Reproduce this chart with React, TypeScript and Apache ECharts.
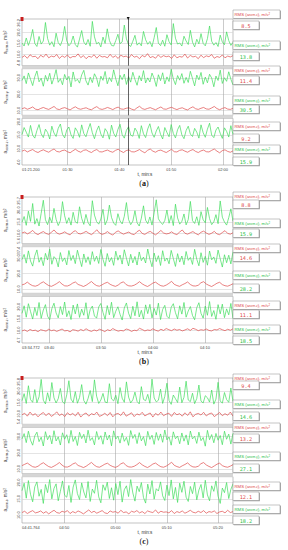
import { useEffect, useRef } from "react";
import * as echarts from "echarts";

// ---------- data ----------
const A_GX = [15.2,13.8,17.5,14.1,16.9,21.4,15.0,13.6,18.2,14.7,16.1,24.6,17.3,14.2,15.8,13.5,19.7,15.4,14.0,16.6,22.8,16.2,13.9,15.1,18.4,14.5,13.3,17.0,20.9,15.6,14.3,16.8,13.7,25.1,18.0,14.8,15.5,13.4,17.9,15.0,21.7,16.4,14.1,13.8,16.3,19.2,14.9,15.7,23.4,17.1,14.4,13.6,16.0,18.7,14.2,15.3,13.9,20.5,16.7,14.6,15.9,13.5,17.6,22.3,15.1,14.0,16.5,13.7,19.0,15.8,14.3,24.1,17.4,14.7,15.2,13.8,18.3,16.1,14.5,21.0,15.6,13.4,16.9,14.8,19.5,15.0,13.9,17.2,23.0,16.0,14.2,15.4,13.6,18.8,15.7,14.4,20.3,16.3,14.1,15.5];
const A_RX = [8.6,9.4,8.2,9.8,8.9,9.1,8.0,9.6,8.7,10.1,8.4,9.2,8.8,9.9,8.1,9.3,8.6,9.7,8.3,9.0,8.9,10.2,8.5,9.4,8.0,9.1,8.7,9.8,8.2,9.5,8.8,9.0,8.4,10.0,8.6,9.3,8.1,9.6,8.9,9.2,8.3,9.9,8.7,9.1,8.0,9.5,8.8,10.3,8.5,9.0,8.2,9.7,8.6,9.4,8.9,9.2,8.1,9.8,8.4,9.0,8.7,10.1,8.3,9.5,8.8,9.1,8.0,9.6,8.5,9.3,8.9,9.9,8.2,9.0,8.6,9.7,8.4,9.2,8.8,9.4];
const A_GY = [28.4,31.2,26.5,33.0,29.1,25.3,30.7,34.2,27.6,29.8,24.9,31.5,28.0,32.8,26.2,30.1,35.0,27.3,29.5,25.8,32.1,28.7,30.9,24.5,33.6,27.9,29.2,26.8,31.8,34.6,28.2,25.6,30.4,27.1,32.5,29.9,24.7,31.0,28.5,33.9,26.4,30.2,27.7,34.9,29.4,25.2,31.6,28.9,32.3,26.0,30.8,27.4,33.4,29.0,25.5,31.3,28.1,34.4,26.9,30.0,27.5,32.9,29.7,24.8,31.9,28.3,33.1,26.3,30.6,27.8,35.2,29.3,25.9,31.4,28.6,32.6,26.7,30.3,27.2,34.0,29.6,25.1,31.7,28.8,33.3,26.1,30.5,27.0,32.2,29.9,24.6,31.1,28.4,34.7,26.6,30.1,27.9,33.7,29.2,25.7];
const A_RY = [11.2,11.8,10.9,11.5,12.3,11.0,10.6,11.4,12.0,11.3,10.8,11.7,12.6,11.1,10.7,11.5,11.9,11.2,10.5,11.6,12.4,11.3,10.9,11.4,11.8,11.0,10.6,11.7,12.5,11.2,10.8,11.3,12.0,11.4,10.7,11.6,12.2,11.1,10.9,11.5,11.8,11.0,10.4,11.7,12.7,11.3,10.8,11.4,11.9,11.2,10.6,11.5,12.3,11.1,10.9,11.6,12.1,11.3,10.7,11.4,11.8,11.0,10.5,11.6,12.4,11.2,10.8,11.5,12.0,11.1,10.9,11.7,12.6,11.3,10.6,11.4,11.9,11.0,10.8,11.5];
const A_GZ = [15.2,17.8,16.1,14.3,18.6,15.0,13.9,16.7,18.9,15.5,14.1,17.2,16.0,13.6,18.3,15.8,14.5,17.5,19.1,15.3,14.0,16.9,18.0,15.1,13.8,17.7,16.4,14.2,18.8,15.6,14.4,17.0,19.3,15.9,13.7,16.6,18.4,15.4,14.0,17.4,16.2,13.5,18.7,15.7,14.3,17.1,19.0,15.2,13.9,16.8,18.1,15.0,14.6,17.6,16.3,13.8,18.5,15.5,14.1,17.3,19.2,15.8,14.2,16.5,18.2,15.3,13.6,17.8,16.0,14.4,18.9,15.6,14.0,17.0,18.6,15.1,13.7,16.7,18.3,15.4,14.5,17.5,16.1,13.9,18.8,15.9,14.2,17.2,19.4,15.0,14.1,16.9,18.0,15.7,13.8,17.7,16.4,14.3,18.5,15.2];
const A_RZ = [9.1,9.5,8.8,9.3,9.7,9.0,8.6,9.2,9.6,9.1,8.7,9.4,9.9,9.0,8.8,9.3,9.5,8.9,8.5,9.2,9.8,9.1,8.7,9.4,9.6,9.0,8.6,9.3,9.7,8.9,8.8,9.2,9.5,9.0,8.7,9.4,9.8,9.1,8.6,9.3,9.6,8.9,8.8,9.2,9.7,9.0,8.5,9.4,9.9,9.1,8.7,9.3,9.5,9.0,8.6,9.2,9.8,8.9,8.8,9.4,9.6,9.1,8.7,9.3,9.7,9.0,8.6,9.2,9.5,8.9,8.8,9.4,9.9,9.1,8.5,9.3,9.6,9.0,8.7,9.2];

const B_GX = [14.8,17.3,13.5,19.6,15.2,22.9,14.0,16.4,13.2,18.7,24.3,15.9,13.8,17.0,14.6,20.8,16.1,13.4,15.5,23.7,17.6,14.3,16.8,13.6,19.1,15.0,14.4,21.5,16.5,13.9,18.2,14.7,13.3,24.1,17.9,15.1,14.0,16.2,20.4,13.7,15.8,22.2,16.9,14.5,13.5,18.5,15.4,14.1,17.4,23.3,16.0,13.8,15.3,19.8,14.6,13.2,16.6,21.9,15.7,14.2,17.1,13.6,18.9,24.5,16.3,14.8,13.9,15.6,20.1,14.4,17.7,13.4,22.6,16.7,14.0,15.2,18.4,13.7,16.0,23.8,15.5,14.3,17.2,13.5,19.4,15.9,14.6,21.2,16.4,13.8,15.0,18.1,14.2,24.0,17.0,14.9,13.6,16.8,20.6,15.3];
const B_RX = [10.2,10.6,9.8,10.4,11.3,10.1,9.5,10.3,10.8,10.0,9.6,10.5,11.5,10.2,9.7,10.1,10.7,9.9,9.4,10.6,11.2,10.0,9.8,10.3,10.9,10.1,9.5,10.4,11.6,10.2,9.6,10.0,10.8,9.9,9.3,10.5,11.1,10.3,9.7,10.2,10.6,9.8,9.5,10.7,11.4,10.0,9.6,10.4,10.9,10.1,9.4,10.3,11.3,10.2,9.8,10.0,10.7,9.9,9.5,10.6,11.5,10.1,9.7,10.3,10.8,10.0,9.4,10.5,11.0,10.2,9.6,10.1,10.9,9.8,9.5,10.4,11.2,10.0,9.7,10.3];
const B_GY = [29.1,32.4,26.8,34.7,28.2,24.9,31.5,35.3,27.4,30.6,25.2,33.1,28.8,35.8,26.1,31.0,29.5,24.4,33.6,27.9,30.2,25.7,34.9,28.5,31.8,26.5,35.1,29.7,24.6,32.7,27.2,30.9,25.9,34.2,28.0,31.3,26.6,35.6,29.2,24.8,33.0,27.6,30.4,25.4,34.5,28.7,32.0,26.2,35.4,29.9,25.0,32.5,27.0,31.1,25.6,34.0,28.4,30.7,26.9,35.9,29.4,24.5,33.3,27.8,31.6,25.3,34.8,28.1,30.1,26.4,35.0,29.8,24.7,32.9,27.5,31.4,25.8,34.3,28.6,30.5,26.0,35.7,29.3,25.1,33.5,27.3,31.2,25.5,34.6,28.9,30.8,26.7,35.2,29.6,24.3,32.2,27.1,31.9,26.3,34.1];
const B_RY = [12.8,13.4,14.6,13.2,12.3,12.0,12.6,13.9,14.8,13.5,12.4,11.9,12.7,13.7,14.9,13.3,12.2,12.1,12.8,14.0,14.7,13.1,12.5,11.8,12.6,13.8,15.0,13.4,12.3,12.0,12.9,13.9,14.5,13.2,12.4,11.9,12.7,14.1,14.8,13.0,12.2,12.1,12.6,13.6,14.9,13.5,12.5,11.8,12.8,14.0,14.6,13.3,12.3,12.0,12.7,13.8,15.1,13.2,12.4,11.9,12.9,13.7,14.7,13.1,12.2,12.1,12.6,14.2,14.9,13.4,12.5,11.8,12.8,13.9,14.5,13.0,12.3,12.0,12.7,13.6];
const B_GZ = [17.2,20.4,15.6,21.3,18.0,14.8,19.7,16.3,21.8,15.1,18.6,20.9,16.0,14.5,19.2,21.5,17.4,15.3,20.1,16.7,22.0,15.8,18.3,14.6,20.7,17.0,21.2,15.5,19.0,16.4,21.7,14.9,18.8,20.3,16.1,15.2,19.9,21.4,17.6,14.7,20.5,16.6,21.9,15.4,18.1,20.0,16.8,14.4,19.5,21.6,17.3,15.0,20.2,16.2,22.1,15.7,18.5,14.8,20.8,17.1,21.0,15.3,19.3,16.5,21.5,14.6,18.9,20.6,16.0,15.1,19.8,21.3,17.5,14.9,20.4,16.9,21.8,15.6,18.2,20.1,16.3,14.5,19.6,21.7,17.2,15.2,20.3,16.4,22.2,15.9,18.4,14.7,20.9,17.0,21.1,15.4,19.1,16.6,21.4,15.0];
const B_RZ = [9.8,10.2,9.6,10.4,9.9,10.1,9.5,10.3,10.0,9.7,10.5,9.9,10.2,9.6,10.1,10.6,9.8,10.0,9.4,10.3,10.1,9.7,10.4,9.9,10.7,10.0,9.6,10.2,9.8,10.5,10.1,9.5,10.3,9.9,10.8,10.2,9.7,10.0,9.8,10.6,10.3,9.6,10.1,9.9,10.9,10.4,9.8,10.2,10.0,10.7,10.1,9.7,10.5,10.0,10.8,10.3,9.9,10.6,10.1,10.4,9.8,10.2,10.7,10.0,10.9,10.5,9.9,10.3,10.1,10.6,10.0,9.8,10.4,10.2,10.8,10.3,9.9,10.5,10.1,10.7];

const C_GX = [15.8,18.9,14.6,22.4,16.3,15.1,20.7,14.9,17.5,25.2,16.0,14.4,19.3,15.6,23.8,17.1,14.8,16.7,21.2,15.3,14.5,18.4,24.6,16.5,15.0,19.8,14.7,17.2,22.9,15.9,14.3,16.8,20.3,15.4,25.0,17.8,14.6,16.1,19.0,15.2,14.9,23.3,16.6,15.7,18.2,14.5,21.6,16.9,15.1,24.1,17.4,14.8,16.2,19.6,15.5,14.4,22.0,16.4,15.8,18.6,14.7,25.3,17.0,15.3,16.0,20.9,14.6,17.7,23.5,15.9,14.2,18.3,16.7,15.0,21.8,14.9,17.3,24.4,16.1,15.4,19.1,14.5,16.8,22.7,15.6,14.8,18.0,17.1,15.2,20.5,14.3,16.5,23.9,15.7,14.7,19.4,16.3,15.1,21.4,15.5];
const C_RX = [9.6,10.3,9.0,10.8,9.4,10.1,8.7,9.9,10.6,9.2,10.4,8.9,9.7,10.9,9.3,10.0,8.8,10.5,9.5,10.2,9.1,10.7,8.6,9.8,10.4,9.0,10.1,9.6,10.8,8.9,9.4,10.3,9.2,10.6,8.7,9.9,10.2,9.3,10.9,9.0,9.7,10.5,8.8,10.0,9.5,10.7,9.1,9.8,10.4,8.6,10.2,9.4,10.8,9.2,9.9,10.3,8.9,10.6,9.6,10.1,9.0,10.5,9.3,10.9,8.7,9.8,10.2,9.5,10.7,9.1,10.0,10.4,8.8,9.7,10.6,9.2,10.1,9.4,10.8,9.0];
const C_GY = [28.6,31.9,26.3,33.4,27.8,24.7,30.5,32.8,26.9,29.7,24.2,33.1,28.1,30.8,25.5,33.7,27.3,29.9,24.8,32.4,28.4,31.2,25.9,33.9,27.0,30.1,24.5,32.7,28.8,31.5,26.1,34.0,27.6,29.4,24.9,33.2,28.2,30.6,25.3,32.9,27.9,31.0,24.3,33.6,28.5,30.3,26.0,32.2,27.1,29.6,24.6,33.8,28.9,31.4,25.7,32.5,27.4,30.0,24.4,33.3,28.3,30.9,25.2,32.6,27.7,31.7,26.5,34.1,28.0,29.8,24.7,33.0,28.7,30.4,25.6,32.3,27.2,31.1,24.9,33.5,28.6,30.2,25.8,32.8,27.5,29.5,24.1,33.9,28.1,31.3,26.2,32.0,27.8,30.7,25.0,33.4,28.4,31.6,25.4,32.1];
const C_RY = [12.0,12.8,13.6,12.4,11.3,11.0,11.6,12.9,13.8,12.5,11.4,10.9,11.7,12.7,13.9,12.3,11.2,11.1,11.8,13.0,13.7,12.1,11.5,10.8,11.6,12.8,14.0,12.4,11.3,11.0,11.9,12.9,13.5,12.2,11.4,10.9,11.7,13.1,13.8,12.0,11.2,11.1,11.6,12.6,13.9,12.5,11.5,10.8,11.8,13.0,13.6,12.3,11.3,11.0,11.7,12.8,14.1,12.2,11.4,10.9,11.9,12.7,13.7,12.1,11.2,11.1,11.6,13.2,13.9,12.4,11.5,10.8,11.8,12.9,13.5,12.0,11.3,11.0,11.7,12.6];
const C_GZ = [17.5,19.8,15.2,20.6,16.4,14.1,18.7,20.2,15.8,17.9,13.6,19.4,16.9,20.9,15.0,18.2,19.6,14.4,17.3,20.5,16.1,15.5,19.1,13.9,18.6,20.8,16.6,14.8,19.9,17.1,15.3,20.3,14.2,18.0,16.7,20.7,15.6,13.8,19.3,17.6,20.1,15.1,18.4,14.6,19.7,16.3,20.4,14.0,17.8,19.0,15.7,20.9,16.8,14.3,18.9,17.2,20.0,15.4,13.7,19.5,16.5,20.6,14.9,18.1,17.4,20.2,15.9,14.5,19.2,16.0,20.8,15.0,18.5,13.9,19.8,17.0,20.4,15.5,14.2,18.8,16.6,20.1,14.7,17.7,19.4,15.3,20.7,16.2,14.4,19.0,17.3,20.5,15.8,13.6,18.3,16.9,20.0,15.1,17.9,19.6];
const C_RZ = [10.8,11.2,10.5,11.0,11.4,10.7,10.9,11.3,10.6,11.1,10.4,11.0,11.5,10.8,10.6,11.2,10.9,11.4,10.5,11.1,10.7,11.3,10.9,10.4,11.0,11.6,10.8,11.2,10.6,11.0,11.4,10.7,10.5,11.3,10.9,11.1,10.6,11.5,10.8,11.0,10.4,11.2,10.9,11.4,10.7,11.1,10.5,11.3,11.0,10.8,11.6,10.6,11.2,10.9,11.0,10.7,11.4,10.5,11.1,10.8,11.3,10.6,11.0,11.5,10.9,10.7,11.2,10.8,11.4,10.6,11.1,10.9,11.3,10.5,11.0,11.2,10.7,11.5,10.8,11.1];

// RMS values shown in boxes (red, green) per axis x, y, z
const A_RMS_RED = [8.5, 11.4, 9.2];
const A_RMS_GREEN = [13.8, 30.5, 15.9];
const B_RMS_RED = [8.8, 14.6, 11.1];
const B_RMS_GREEN = [15.9, 28.2, 18.5];
const C_RMS_RED = [9.4, 13.2, 12.1];
const C_RMS_GREEN = [14.6, 27.1, 18.2];

// time axes (seconds)
const A_TIME = [81.2, 121.93];
const B_TIME = [214.772, 255.4];
const C_TIME = [281.764, 322.92];
const A_TICKS = [90, 100, 110, 120];
const B_TICKS = [220, 230, 240, 250];
const C_TICKS = [290, 300, 310, 320];
const A_TICK_LABELS = ["01:30", "01:40", "01:50", "02:00"];
const B_TICK_LABELS = ["03:40", "03:50", "04:00", "04:10"];
const C_TICK_LABELS = ["04:50", "05:00", "05:10", "05:20"];
const START_LABELS = ["01:21.200", "03:34.772", "04:41.764"];
const A_CURSOR = 101.7;

// y ranges per row [min, max] and ticks
const A_YRANGE = [[4.8, 26.2], [7.2, 35.6], [4.0, 21.2]];
const B_YRANGE = [[5.6, 25.7], [7.4, 37.4], [4.7, 24.4]];
const C_YRANGE = [[5.4, 25.8], [7.0, 35.8], [7.6, 21.8]];
const YTICKS = [[10, 15, 20], [10, 20, 30], [10, 15, 20]];
const AXES = ["x", "y", "z"];
const PANEL_NAMES = ["a", "b", "c"];

const GREEN = "#3fdc5c";
const RED = "#e04a4a";

// ---------- layout ----------
const PLOT_L = 22;
const PLOT_R = 233;
const PANEL_TOP = [19, 197, 378];
const PANEL_BOTTOM = [165, 343, 523];
const GAP = 3;
const HEADER_TOPS = [[10, 41, 66, 96, 122, 145], [192, 219, 244, 271, 301, 325], [374, 400, 423, 452, 482, 505]];
const VALUE_TOPS = [[21, 52, 76, 105, 134, 157], [200, 229, 253, 284, 310, 336], [381, 412, 434, 464, 492, 516]];

function buildOption() {
  const panels = [
    { g: [A_GX, A_GY, A_GZ], r: [A_RX, A_RY, A_RZ], time: A_TIME, ticks: A_TICKS, tl: A_TICK_LABELS, yr: A_YRANGE, rr: A_RMS_RED, rg: A_RMS_GREEN },
    { g: [B_GX, B_GY, B_GZ], r: [B_RX, B_RY, B_RZ], time: B_TIME, ticks: B_TICKS, tl: B_TICK_LABELS, yr: B_YRANGE, rr: B_RMS_RED, rg: B_RMS_GREEN },
    { g: [C_GX, C_GY, C_GZ], r: [C_RX, C_RY, C_RZ], time: C_TIME, ticks: C_TICKS, tl: C_TICK_LABELS, yr: C_YRANGE, rr: C_RMS_RED, rg: C_RMS_GREEN },
  ];
  const grid: any[] = [];
  const xAxis: any[] = [];
  const yAxis: any[] = [];
  const series: any[] = [];
  const graphic: any[] = [];
  const toXY = (arr: number[], t: number[]) =>
    arr.map((v, i) => [t[0] + (i * (t[1] - t[0])) / (arr.length - 1), v]);

  panels.forEach((P, p) => {
    const top = PANEL_TOP[p];
    const H = PANEL_BOTTOM[p] - top;
    const rowH = (H - 2 * GAP) / 3;
    for (let r = 0; r < 3; r++) {
      const gi = p * 3 + r;
      const rTop = top + r * (rowH + GAP);
      grid.push({
        left: PLOT_L, width: PLOT_R - PLOT_L, top: rTop, height: rowH,
        show: true, backgroundColor: "#fff", borderColor: "#9a9a9a", borderWidth: 0.6,
        containLabel: false, outerBoundsMode: "none",
      });
      if (r < 2) {
        graphic.push({ type: "rect", shape: { x: PLOT_L, y: rTop + rowH, width: PLOT_R - PLOT_L, height: GAP }, style: { fill: "#d6d6d6" }, silent: true });
      }
      const isBottom = r === 2;
      const t = P.time;
      xAxis.push({
        type: "value", gridIndex: gi, min: t[0], max: t[1],
        axisLine: { show: false },
        axisTick: { show: false, customValues: P.ticks },
        splitLine: { show: true, lineStyle: { color: "#a8a8a8", width: 0.6 } },
        axisLabel: {
          show: isBottom, customValues: [t[0], ...P.ticks], fontSize: 4, color: "#444", margin: 2,
          fontFamily: "Liberation Sans", alignMinLabel: "left",
          formatter: (v: number) => (Math.abs(v - t[0]) < 1e-6 ? START_LABELS[p] : P.tl[P.ticks.indexOf(v)] ?? ""),
        },
      });
      const yr = P.yr[r];
      yAxis.push({
        type: "value", gridIndex: gi, min: yr[0], max: yr[1],
        axisLine: { show: false },
        axisTick: { show: false, customValues: YTICKS[r] },
        splitLine: { show: true, lineStyle: { color: "#d2d2d2", width: 0.6 } },
        axisLabel: {
          customValues: [yr[0], ...YTICKS[r], yr[1]], rotate: 90, fontSize: 4, color: "#444", margin: 2,
          fontFamily: "Liberation Sans", alignMinLabel: "left", alignMaxLabel: "right",
          formatter: (v: number) => v.toFixed(1),
        },
        name: `a{s|norm-${AXES[r]}}, m/s{p|2}`,
        nameLocation: "middle", nameRotate: 90, nameGap: 10,
        nameTextStyle: {
          fontSize: 4.6, color: "#333", fontFamily: "Liberation Sans",
          rich: { s: { fontSize: 3, color: "#333", verticalAlign: "bottom", fontFamily: "Liberation Sans" }, p: { fontSize: 3, color: "#333", verticalAlign: "top", fontFamily: "Liberation Sans" } },
        },
      });
      series.push({
        type: "line", xAxisIndex: gi, yAxisIndex: gi, data: toXY(P.g[r], t),
        showSymbol: false, symbol: "none", lineStyle: { color: GREEN, width: 0.7 }, itemStyle: { color: GREEN }, z: 3,
      });
      const red: any = {
        type: "line", xAxisIndex: gi, yAxisIndex: gi, data: toXY(P.r[r], t),
        showSymbol: false, symbol: "none", lineStyle: { color: RED, width: 0.7 }, itemStyle: { color: RED }, z: 4,
      };
      if (p === 0) {
        red.markLine = { silent: true, symbol: "none", label: { show: false }, lineStyle: { color: "#222", width: 0.7, type: "solid" }, data: [{ xAxis: A_CURSOR }] };
      }
      series.push(red);
    }

    // red marker at top-left
    graphic.push({ type: "rect", shape: { x: PLOT_L - 1.5, y: top - 2, width: 3, height: 4 }, style: { fill: "#c81e1e" }, silent: true });
    if (p === 0) {
      const cx = PLOT_L + ((A_CURSOR - P.time[0]) / (P.time[1] - P.time[0])) * (PLOT_R - PLOT_L);
      graphic.push({ type: "polygon", shape: { points: [[cx - 1.5, top - 2], [cx + 1.5, top - 2], [cx, top + 1]] }, style: { fill: "#111" }, silent: true });
    }

    // t, min:s and (a)
    graphic.push({ type: "text", x: 145, y: PANEL_BOTTOM[p] + 9, style: { text: "t, min:s", fontSize: 4.6, fill: "#333", fontFamily: "Liberation Sans", align: "center", verticalAlign: "middle" }, silent: true });
    graphic.push({
      type: "text", x: 144, y: PANEL_BOTTOM[p] + 18,
      style: {
        text: `({b|${PANEL_NAMES[p]}})`, fontSize: 8, fill: "#111", fontFamily: "Liberation Serif", align: "center", verticalAlign: "middle",
        rich: { b: { fontSize: 8, fontWeight: "bold", fill: "#111", fontFamily: "Liberation Serif" } },
      },
      silent: true,
    });

    // RMS boxes
    for (let k = 0; k < 6; k++) {
      const axisIdx = Math.floor(k / 2);
      const isRed = k % 2 === 0;
      const col = isRed ? RED : "#2ec24a";
      const val = isRed ? P.rr[axisIdx] : P.rg[axisIdx];
      const hy = HEADER_TOPS[p][k];
      const vy = VALUE_TOPS[p][k];
      graphic.push({ type: "rect", shape: { x: 233.8, y: hy + 0.8, width: 47, height: 8.5 }, style: { fill: "#9a9a9a" }, silent: true, z: 10 });
      graphic.push({ type: "rect", shape: { x: 233, y: hy, width: 47, height: 8.5 }, style: { fill: "#fff", stroke: "#8a8a8a", lineWidth: 0.5 }, silent: true, z: 11 });
      graphic.push({
        type: "text", x: 234.5, y: hy + 4.4, z: 12, silent: true,
        style: {
          text: `RMS (a{s|norm-${AXES[axisIdx]}}), m/s{p|2}`, fontSize: 4.3, fill: col, fontFamily: "Liberation Sans", verticalAlign: "middle",
          rich: { s: { fontSize: 2.8, fill: col, verticalAlign: "bottom", fontFamily: "Liberation Sans" }, p: { fontSize: 2.8, fill: col, verticalAlign: "top", fontFamily: "Liberation Sans" } },
        },
      });
      graphic.push({ type: "rect", shape: { x: 233.8, y: vy + 0.8, width: 26, height: 8.5 }, style: { fill: "#9a9a9a" }, silent: true, z: 10 });
      graphic.push({ type: "rect", shape: { x: 233, y: vy, width: 26, height: 8.5 }, style: { fill: "#fff", stroke: "#8a8a8a", lineWidth: 0.5 }, silent: true, z: 11 });
      graphic.push({
        type: "text", x: 246, y: vy + 4.5, z: 12, silent: true,
        style: { text: val.toFixed(1), fontSize: 5.2, fill: col, fontFamily: "DejaVu Sans Mono", align: "center", verticalAlign: "middle" },
      });
    }
  });

  return { animation: false, backgroundColor: "#fff", grid, xAxis, yAxis, series, graphic };
}

export default function App() {
  const ref = useRef<HTMLDivElement>(null);
  useEffect(() => {
    if (!ref.current) return;
    const chart = echarts.init(ref.current, undefined, { renderer: "svg" });
    chart.setOption(buildOption() as any);
    return () => chart.dispose();
  }, []);
  return <div ref={ref} style={{ position: "fixed", left: 0, top: 0, width: 288, height: 550, background: "#fff" }} />;
}
